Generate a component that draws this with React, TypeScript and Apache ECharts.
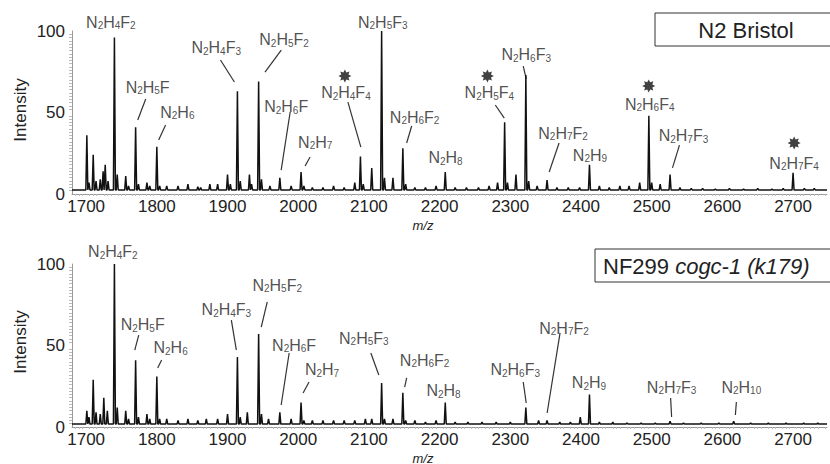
import React, { useEffect, useRef } from "react";
import * as echarts from "echarts";

const X_MIN = 1680;
const X_MAX = 2748;
const xTickLabels = [1700, 1800, 1900, 2000, 2100, 2200, 2300, 2400, 2500, 2600, 2700];
const yTickLabels = [0, 50, 100];

const topTitle = "N2 Bristol";
const botTitlePlain = "NF299 ";
const botTitleItalic = "cogc-1 (k179)";

// Top panel spectrum: peak m/z and relative intensity
const topPeakMz = [1701, 1704, 1710, 1714, 1720, 1724, 1727, 1731, 1740, 1744, 1756, 1760, 1770, 1774, 1786, 1790, 1800, 1804, 1814, 1830, 1844, 1858, 1862, 1875, 1886, 1900, 1904, 1914, 1918, 1931, 1934, 1944, 1948, 1960, 1974, 1990, 2004, 2008, 2020, 2035, 2050, 2065, 2080, 2088, 2092, 2104, 2118, 2122, 2134, 2148, 2152, 2165, 2180, 2195, 2208, 2222, 2238, 2255, 2270, 2282, 2292, 2296, 2308, 2322, 2326, 2338, 2352, 2366, 2382, 2398, 2412, 2426, 2440, 2455, 2468, 2483, 2496, 2500, 2512, 2526, 2540, 2556, 2572, 2590, 2610, 2630, 2650, 2670, 2686, 2700, 2716, 2730];
const topPeakInt = [36, 7, 24, 8, 9, 14, 18, 8, 96, 12, 11, 5, 41, 6, 7, 5, 29, 5, 5, 5, 6, 4.5, 4, 6, 6, 12, 6, 63, 8, 12, 6, 69, 9, 5, 10, 5, 13.5, 5, 4, 4, 5, 4, 7, 23, 6, 16, 100, 10, 10, 28, 6, 4, 4, 5, 13.5, 4, 4, 4, 5, 7, 44, 7, 12, 73, 8, 5, 8.5, 4, 4, 4, 18, 5, 4, 5, 5, 7, 48, 7, 6, 12, 4, 3.5, 3.5, 3, 3.5, 3, 3.5, 3, 3.5, 13, 3.5, 3.5];
const topBaseline = 2.5;

// Bottom panel spectrum
const botPeakMz = [1701, 1704, 1710, 1714, 1720, 1725, 1730, 1740, 1744, 1756, 1760, 1770, 1774, 1786, 1790, 1800, 1804, 1814, 1830, 1844, 1858, 1870, 1886, 1900, 1914, 1918, 1928, 1944, 1948, 1958, 1974, 1990, 2004, 2008, 2020, 2035, 2050, 2065, 2080, 2095, 2104, 2118, 2122, 2134, 2148, 2152, 2165, 2180, 2195, 2208, 2222, 2240, 2260, 2280, 2300, 2322, 2340, 2352, 2370, 2385, 2399, 2412, 2426, 2445, 2465, 2485, 2505, 2526, 2545, 2570, 2595, 2616, 2640, 2665, 2690, 2715, 2735];
const botPeakInt = [10, 6, 29, 9, 8, 18, 10, 100, 12, 10, 5, 41, 6, 8, 5, 31, 5, 5, 4, 5, 4, 5, 5, 8, 43, 6, 9, 57, 8, 5, 9, 5, 15, 4, 4, 4, 4, 4, 4, 5, 5, 27, 5, 5, 21, 4, 4, 3, 4, 15, 3, 3, 3, 3, 3, 12, 4, 4, 3, 3, 6, 20, 3, 3, 2.5, 2.5, 2.5, 3.5, 2.5, 2.5, 2.5, 3.5, 2.5, 2.5, 2.5, 2.5, 2.5];
const botBaseline = 1.8;

// Annotation labels: [formula, m/z, intensity] of label centre
const topLabels: [string, number, number][] = [
  ["N2H4F2", 1735, 105.5],
  ["N2H5F", 1787, 65.6],
  ["N2H6", 1829, 50.3],
  ["N2H4F3", 1884, 89.6],
  ["N2H5F2", 1980, 94.5],
  ["N2H6F", 1983, 53.4],
  ["N2H7", 2024, 31.9],
  ["N2H4F4", 2067.5, 62],
  ["N2H5F3", 2119.6, 105.5],
  ["N2H6F2", 2164.7, 47.2],
  ["N2H8", 2208.4, 22.1],
  ["N2H5F4", 2270.4, 62],
  ["N2H6F3", 2322.5, 85.3],
  ["N2H7F2", 2374.6, 37.4],
  ["N2H9", 2412.7, 23.9],
  ["N2H6F4", 2497.2, 55.2],
  ["N2H7F3", 2545, 35.6],
  ["N2H7F4", 2701.5, 19],
];
const topLeaders: [number, number, number, number][] = [
  [1784.3, 58.3, 1773, 45.4],
  [1812.4, 42.3, 1802.6, 33.1],
  [1890, 82.2, 1909.7, 68.7],
  [1976, 88.3, 1953, 74.8],
  [1988.6, 50.3, 1975.9, 14.7],
  [2016.8, 22.7, 2009.7, 17.2],
  [2070.3, 56.4, 2088.6, 28.8],
  [2160.5, 41.7, 2153.4, 31.3],
  [2278.8, 54.6, 2291.5, 46.6],
  [2318.3, 78.5, 2322.5, 70.6],
  [2369, 31.3, 2355, 13.5],
  [2539.3, 30, 2529.4, 16],
];
const topStars: [number, number][] = [
  [2066, 72.4],
  [2267.6, 72.4],
  [2495.8, 66.3],
  [2701.5, 31.3],
];

const botLabels: [string, number, number][] = [
  ["N2H4F2", 1737.8, 107.4],
  ["N2H5F", 1780, 62.6],
  ["N2H6", 1819.5, 48.5],
  ["N2H4F3", 1898.4, 71.8],
  ["N2H5F2", 1970.3, 87.1],
  ["N2H6F", 1994.2, 50.3],
  ["N2H7", 2033.7, 35],
  ["N2H5F3", 2092.8, 54.6],
  ["N2H6F2", 2178.8, 41.1],
  ["N2H8", 2205.6, 22.1],
  ["N2H6F3", 2307, 35],
  ["N2H7F2", 2376, 60.7],
  ["N2H9", 2411.3, 27],
  ["N2H7F3", 2528.2, 24.5],
  ["N2H10", 2626.8, 24.5],
];
const botLeaders: [number, number, number, number][] = [
  [1774.4, 56.4, 1768.8, 47.2],
  [1806.8, 41.1, 1801.2, 36.2],
  [1905.4, 65.6, 1912.5, 47.2],
  [1956.2, 76.7, 1947.7, 61.3],
  [1987.2, 45.4, 1975.9, 13.5],
  [2015.3, 27.6, 2006.9, 20.9],
  [2102.7, 45.4, 2114, 31.9],
  [2153.4, 30.1, 2150.6, 24.5],
  [2318.3, 27.6, 2322.5, 14.7],
  [2370.4, 57.7, 2352.1, 8.6],
  [2526.8, 17.8, 2528.2, 6.1],
  [2619.8, 15.3, 2618.4, 7.4],
];

const FONT = "'Liberation Sans', Arial, Helvetica, sans-serif";
const TXT = "#222";

function spectrum(mz: number[], inten: number[], base: number) {
  const pts: number[][] = [[X_MIN, base]];
  mz.forEach((m, i) => {
    pts.push([m - 1.4, base], [m, inten[i]], [m + 1.4, base]);
  });
  pts.push([X_MAX, base]);
  return pts;
}

function formula(s: string) {
  return s.replace(/([A-Z])(\d*)/g, (_m, l, d) => `{a|${l}}` + (d ? `{s|${d}}` : ""));
}

function starPath() {
  const pts: string[] = [];
  for (let i = 0; i < 16; i++) {
    const ang = (i * Math.PI) / 8 - Math.PI / 2;
    const r = i % 2 === 0 ? 50 : 30;
    pts.push(`${(50 + r * Math.cos(ang)).toFixed(2)} ${(50 + r * Math.sin(ang)).toFixed(2)}`);
  }
  return "path://M" + pts.join(" L") + " Z";
}

const richStyles = {
  a: { fontSize: 16, lineHeight: 17, color: TXT, fontFamily: FONT },
  s: { fontSize: 10, lineHeight: 11, verticalAlign: "bottom", color: TXT, fontFamily: FONT },
};

function makeAxes(gridIndex: number) {
  const xAxis = {
    type: "value",
    gridIndex,
    min: X_MIN,
    max: X_MAX,
    interval: 20,
    axisLine: { show: true, onZero: false, lineStyle: { color: "#999", width: 1 } },
    axisTick: { show: false },
    minorTick: { show: true, splitNumber: 4, length: 2, lineStyle: { color: "#bbb" } },
    splitLine: { show: false },
    axisLabel: {
      fontSize: 17,
      color: TXT,
      fontFamily: FONT,
      margin: 4,
      formatter: (v: number) => (xTickLabels.indexOf(v) >= 0 ? String(v) : ""),
    },
  };
  const yAxis = {
    type: "value",
    gridIndex,
    min: 0,
    max: 100,
    interval: 50,
    axisLine: { show: true, lineStyle: { color: "#999", width: 1 } },
    axisTick: { show: false },
    minorTick: { show: true, splitNumber: 25, length: 3, lineStyle: { color: "#bbb" } },
    splitLine: { show: false },
    axisLabel: {
      fontSize: 17,
      color: TXT,
      fontFamily: FONT,
      margin: 7,
      formatter: (v: number) => (yTickLabels.indexOf(v) >= 0 ? String(v) : ""),
    },
  };
  return { xAxis, yAxis };
}

function panelSeries(
  idx: number,
  mz: number[],
  inten: number[],
  base: number,
  labels: [string, number, number][],
  leaders: [number, number, number, number][],
  stars: [number, number][]
) {
  const out: any[] = [
    {
      type: "line",
      xAxisIndex: idx,
      yAxisIndex: idx,
      data: spectrum(mz, inten, base),
      symbol: "none",
      lineStyle: { color: "#111", width: 1.5 },
      silent: true,
    },
    {
      type: "lines",
      coordinateSystem: "cartesian2d",
      xAxisIndex: idx,
      yAxisIndex: idx,
      data: leaders.map((l) => ({ coords: [[l[0], l[1]], [l[2], l[3]]] })),
      lineStyle: { color: "#333", width: 1.2, opacity: 1 },
      silent: true,
      clip: false,
    },
    {
      type: "scatter",
      xAxisIndex: idx,
      yAxisIndex: idx,
      clip: false,
      symbolSize: 1,
      itemStyle: { color: "rgba(0,0,0,0)" },
      silent: true,
      data: labels.map((l) => ({ name: l[0], value: [l[1], l[2]] })),
      label: {
        show: true,
        position: "inside",
        formatter: (p: any) => formula(p.name),
        rich: richStyles,
      },
    },
  ];
  if (stars.length) {
    out.push({
      type: "scatter",
      xAxisIndex: idx,
      yAxisIndex: idx,
      clip: false,
      symbol: starPath(),
      symbolSize: 13,
      itemStyle: { color: "#111" },
      silent: true,
      data: stars,
    });
  }
  return out;
}

export default function App() {
  const ref = useRef<HTMLDivElement>(null);
  useEffect(() => {
    if (!ref.current) return;
    const chart = echarts.init(ref.current, undefined, { renderer: "svg" });
    const a0 = makeAxes(0);
    const a1 = makeAxes(1);
    chart.setOption({
      animation: false,
      backgroundColor: "#fff",
      grid: [
        { left: 72, top: 31, width: 758, height: 163 },
        { left: 72, top: 264, width: 758, height: 163 },
      ],
      xAxis: [a0.xAxis, a1.xAxis],
      yAxis: [a0.yAxis, a1.yAxis],
      series: [
        ...panelSeries(0, topPeakMz, topPeakInt, topBaseline, topLabels, topLeaders, topStars),
        ...panelSeries(1, botPeakMz, botPeakInt, botBaseline, botLabels, botLeaders, []),
      ],
      graphic: [
        {
          type: "rect",
          shape: { x: 655, y: 13, width: 185, height: 33 },
          style: { fill: "#fff", stroke: "#333", lineWidth: 1 },
        },
        {
          type: "text",
          x: 746,
          y: 30,
          style: { text: topTitle, fontSize: 22, fontFamily: FONT, fill: TXT, textAlign: "center", textVerticalAlign: "middle" },
        },
        {
          type: "rect",
          shape: { x: 595, y: 249, width: 245, height: 33 },
          style: { fill: "#fff", stroke: "#333", lineWidth: 1 },
        },
        {
          type: "text",
          x: 603,
          y: 266,
          style: {
            text: `{n|${botTitlePlain}}{i|${botTitleItalic}}`,
            textAlign: "left",
            textVerticalAlign: "middle",
            rich: {
              n: { fontSize: 22, fontFamily: FONT, fill: TXT, color: TXT },
              i: { fontSize: 22, fontFamily: FONT, fontStyle: "italic", fill: TXT, color: TXT },
            },
          },
        },
        {
          type: "text",
          x: 20,
          y: 110,
          rotation: Math.PI / 2,
          style: { text: "Intensity", fontSize: 17, fontFamily: FONT, fill: TXT, textAlign: "center", textVerticalAlign: "middle" },
        },
        {
          type: "text",
          x: 20,
          y: 342,
          rotation: Math.PI / 2,
          style: { text: "Intensity", fontSize: 17, fontFamily: FONT, fill: TXT, textAlign: "center", textVerticalAlign: "middle" },
        },
        {
          type: "text",
          x: 423,
          y: 225,
          style: { text: "m/z", fontSize: 13, fontStyle: "italic", fontFamily: FONT, fill: TXT, textAlign: "center", textVerticalAlign: "middle" },
        },
        {
          type: "text",
          x: 423,
          y: 458,
          style: { text: "m/z", fontSize: 13, fontStyle: "italic", fontFamily: FONT, fill: TXT, textAlign: "center", textVerticalAlign: "middle" },
        },
      ],
    });
    return () => chart.dispose();
  }, []);
  return <div ref={ref} style={{ position: "absolute", left: 0, top: 0, width: 830, height: 464 }} />;
}
